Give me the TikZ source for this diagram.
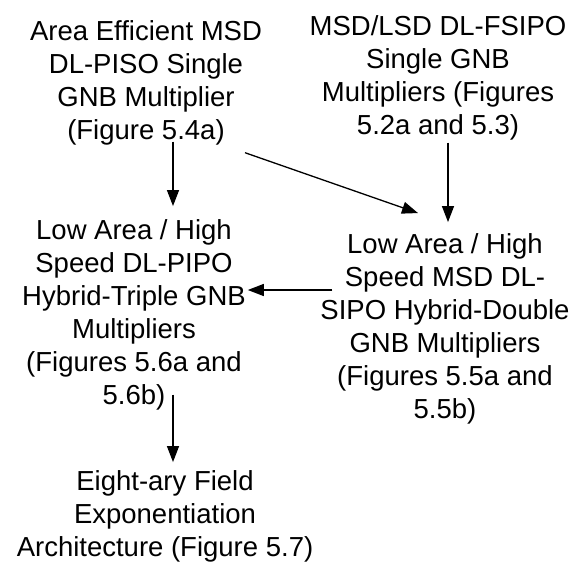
\documentclass[tikz,border=0pt]{standalone}
\usepackage{fontspec}
\setmainfont{Liberation Sans}
\usetikzlibrary{arrows.meta}
\tikzset{
  label text/.style={align=center, inner sep=0pt, outer sep=0pt, anchor=base,
    font=\fontsize{27.5}{33}\selectfont},
  flow/.style={line width=1.3pt, -{Triangle[length=16pt,width=12pt]}}
}
\begin{document}
\begin{tikzpicture}[x=1pt,y=-1pt]
  \useasboundingbox (0,0) rectangle (578,563);
  % each node is placed by the baseline of its last line
  \node[label text] (A) at (146,139) {Area Efficient MSD\\DL-PISO Single\\GNB Multiplier\\(Figure 5.4a)};
  \node[label text] (B) at (438,134) {MSD/LSD DL-FSIPO\\Single GNB\\Multipliers (Figures\\5.2a and 5.3)};
  \node[label text] (C) at (134,404) {Low Area / High\\Speed DL-PIPO\\Hybrid-Triple GNB\\Multipliers\\(Figures 5.6a and\\5.6b)};
  \node[label text] (D) at (445,418) {Low Area / High\\Speed MSD DL-\\SIPO Hybrid-Double\\GNB Multipliers\\(Figures 5.5a and\\5.5b)};
  \node[label text] (E) at (165,556) {Eight-ary Field\\Exponentiation\\Architecture (Figure 5.7)};

  \draw[flow] ([xshift=27pt,yshift=3pt]A.south) -- ([xshift=39pt,yshift=13pt]C.north);
  \draw[flow] ([xshift=99pt,yshift=-8pt]A.south) -- ([xshift=-27pt,yshift=20pt]D.north);
  \draw[flow] ([xshift=10pt,yshift=-3pt]B.south) -- ([xshift=3pt,yshift=11pt]D.north);
  \draw[flow] ([xshift=12pt]D.west |- 0,290) -- ([xshift=2pt]C.east |- 0,290);
  \draw[flow] ([xshift=39pt,yshift=15pt]C.south) -- ([xshift=8pt,yshift=8pt]E.north);
\end{tikzpicture}
\end{document}
